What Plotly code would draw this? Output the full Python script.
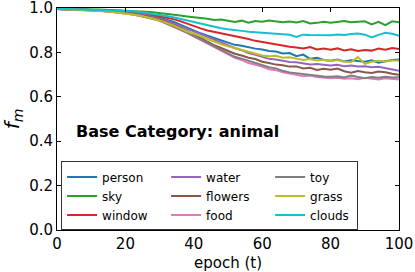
import plotly.graph_objects as go

epochs = list(range(0, 101, 2))

person = [.996,.995,.995,.994,.993,.992,.991,.989,.988,.985,.982,.978,.974,.969,.963,.956,.948,.938,.925,.912,
          .896,.886,.875,.864,.854,.845,.834,.830,.822,.817,.813,.806,.804,.795,.797,.783,.790,.771,.776,.766,
          .762,.768,.759,.765,.761,.758,.764,.754,.760,.766,.768]
sky = [.996,.996,.995,.995,.994,.994,.993,.992,.991,.990,.989,.987,.985,.983,.981,.978,.975,.971,.966,.962,
       .960,.955,.952,.946,.948,.942,.937,.943,.934,.941,.938,.944,.940,.936,.939,.935,.941,.930,.933,.938,
       .934,.939,.941,.936,.938,.940,.926,.938,.923,.940,.936]
window = [.996,.995,.995,.994,.994,.993,.992,.991,.989,.988,.986,.983,.979,.975,.969,.963,.957,.950,.941,.929,
          .918,.908,.899,.893,.885,.878,.872,.866,.860,.852,.846,.842,.836,.830,.825,.822,.818,.824,.813,.817,
          .812,.818,.809,.814,.806,.811,.808,.817,.812,.820,.815]
water = [.996,.995,.995,.994,.993,.992,.990,.989,.987,.984,.981,.977,.972,.966,.960,.952,.943,.932,.919,.906,
         .896,.883,.870,.857,.845,.832,.820,.810,.797,.789,.780,.771,.768,.762,.757,.756,.750,.746,.748,.743,
         .741,.744,.738,.741,.736,.738,.733,.735,.729,.723,.717]
flowers = [.995,.995,.994,.993,.992,.991,.989,.987,.985,.982,.979,.975,.969,.963,.956,.947,.936,.924,.910,.896,
           .879,.866,.848,.832,.820,.806,.794,.786,.776,.770,.758,.752,.745,.742,.736,.737,.728,.731,.721,.726,
           .722,.727,.715,.708,.716,.711,.707,.714,.711,.704,.699]
food = [.995,.994,.994,.993,.992,.990,.988,.986,.983,.980,.976,.971,.966,.959,.951,.942,.930,.917,.903,.888,
        .872,.856,.840,.824,.806,.790,.775,.765,.752,.744,.736,.724,.720,.710,.703,.699,.693,.696,.689,.687,
        .684,.686,.681,.684,.679,.686,.682,.678,.683,.680,.678]
toy = [.995,.995,.994,.993,.992,.990,.988,.986,.984,.981,.977,.972,.966,.960,.952,.943,.931,.918,.904,.889,
       .873,.858,.843,.828,.812,.795,.780,.772,.762,.754,.742,.733,.728,.717,.710,.706,.701,.697,.695,.692,
       .690,.693,.687,.696,.689,.684,.689,.686,.690,.687,.688]
grass = [.995,.994,.993,.992,.991,.989,.987,.985,.982,.979,.975,.971,.966,.960,.953,.944,.934,.922,.908,.894,
         .884,.872,.858,.846,.837,.828,.819,.812,.803,.794,.786,.783,.785,.776,.778,.772,.766,.770,.764,.767,
         .761,.766,.758,.757,.779,.748,.758,.762,.759,.763,.764]
clouds = [.997,.996,.996,.995,.995,.994,.993,.992,.990,.989,.987,.985,.982,.978,.974,.969,.964,.958,.951,.945,
          .935,.929,.921,.914,.909,.904,.899,.897,.893,.891,.888,.886,.884,.882,.879,.870,.880,.878,.877,.879,
          .877,.881,.878,.883,.885,.880,.867,.879,.888,.884,.875]

names = ["person", "sky", "window", "water", "flowers", "food", "toy", "grass", "clouds"]
series = [person, sky, window, water, flowers, food, toy, grass, clouds]
colors = ["#1f77b4", "#2ca02c", "#d62728", "#9467bd", "#8c564b", "#e377c2", "#7f7f7f", "#bcbd22", "#17becf"]
legend_rank = [1, 4, 7, 2, 5, 8, 3, 6, 9]

x_ticks = [0, 20, 40, 60, 80, 100]
y_ticks = [0.0, 0.2, 0.4, 0.6, 0.8, 1.0]

fig = go.Figure()
for i, (n, s, c, r) in enumerate(zip(names, series, colors, legend_rank)):
    fig.add_trace(go.Scatter(
        x=epochs, y=s, mode="lines", name=n,
        line=dict(color=c, width=2),
        legendrank=r,
        legendwidth=(42 if r in (3, 6, 9) else 59),
    ))

font_family = "DejaVu Sans"
fig.update_layout(
    width=415, height=272,
    margin=dict(l=57, r=16, t=8, b=42, autoexpand=False),
    paper_bgcolor="white", plot_bgcolor="white",
    font=dict(family=font_family, size=15, color="black"),
    showlegend=True,
    legend=dict(
        orientation="h",
        x=0.012, y=0.309, xanchor="left", yanchor="top",
        bgcolor="white", bordercolor="#333333", borderwidth=1,
        font=dict(size=12, family=font_family),
        entrywidthmode="pixels",
        tracegroupgap=0,
    ),
    annotations=[dict(
        text="<b>Base Category: animal</b>",
        xref="paper", yref="paper", x=0.050, y=0.443,
        xanchor="left", yanchor="middle", showarrow=False,
        font=dict(size=16, family=font_family, color="black"),
    )],
)
fig.update_xaxes(
    range=[0, 100], tickvals=x_ticks, ticks="inside", ticklen=4, tickcolor="black",
    showline=True, linecolor="black", linewidth=1, mirror="allticks",
    showgrid=False, zeroline=False, automargin=False,
    title=dict(text="epoch (t)", font=dict(size=15), standoff=9),
    tickfont=dict(size=15), ticklabeloverflow="allow",
)
fig.update_yaxes(
    range=[0, 1], tickvals=y_ticks, tickformat=".1f", ticks="inside", ticklen=4, tickcolor="black",
    showline=True, linecolor="black", linewidth=1, mirror="allticks",
    showgrid=False, zeroline=False, automargin=False,
    title=dict(text="<i>f<sub>m</sub></i>", font=dict(size=20), standoff=11),
    tickfont=dict(size=15), ticklabeloverflow="allow",
)
# remove the browser's default 8px page margin so the figure sits at the window origin
fig.write_html(
    "out.html",
    config={"displayModeBar": False, "staticPlot": True},
    post_script="document.body.style.margin='0';",
)
